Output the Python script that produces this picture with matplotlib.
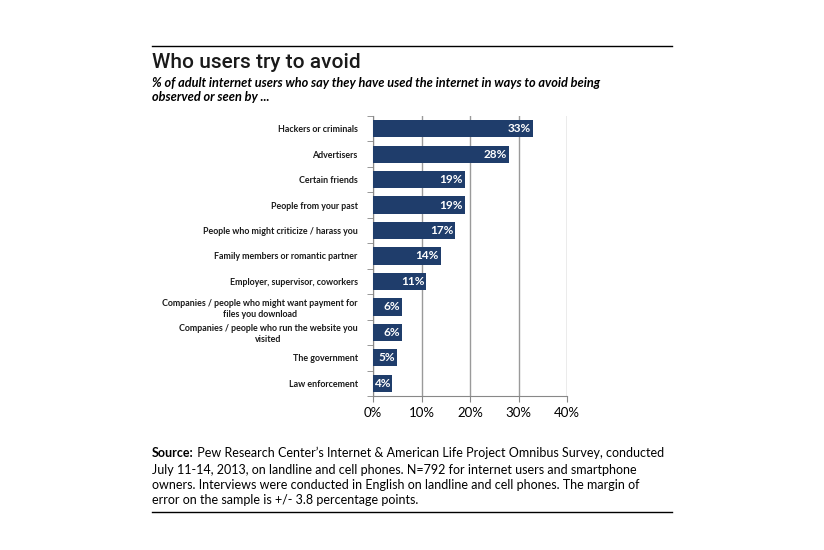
import matplotlib.pyplot as plt
from matplotlib.ticker import FixedLocator

categories = [
    "Hackers or criminals",
    "Advertisers",
    "Certain friends",
    "People from your past",
    "People who might criticize / harass you",
    "Family members or romantic partner",
    "Employer, supervisor, coworkers",
    "Companies / people who might want payment for\nfiles you download",
    "Companies / people who run the website you\nvisited",
    "The government",
    "Law enforcement",
]
values = [33, 28, 19, 19, 17, 14, 11, 6, 6, 5, 4]
xticks = [0, 10, 20, 30, 40]
xticklabels = ["0%", "10%", "20%", "30%", "40%"]

bar_color = "#1f3d6b"
font = ["Lato", "DejaVu Sans"]
plt.rcParams["font.family"] = font

fig = plt.figure(figsize=(8.24, 5.5), dpi=100)
ax = fig.add_axes([373 / 824, 1 - 396 / 550, 194 / 824, 280 / 550])

ypos = list(range(len(categories)))
ax.barh(ypos, values, height=0.68, color=bar_color, zorder=3)
for y, v in zip(ypos, values):
    ax.text(v - 0.4, y, f"{v}%", ha="right", va="center", color="white",
            fontsize=8.5, fontweight="bold", zorder=4)

ax.set_xlim(0, 40)
ax.set_ylim(len(categories) - 0.5, -0.5)
ax.set_xticks(xticks)
ax.set_xticklabels(xticklabels, fontsize=9.5)
ax.xaxis.grid(True, color="#9a9a9a", linewidth=1, zorder=0)
ax.set_yticks(ypos)
ax.set_yticklabels(categories, fontsize=6.4, fontweight="bold", linespacing=1.3,
                   color="#1a1a1a")
ax.tick_params(axis="y", length=0, pad=11)
ax.yaxis.set_minor_locator(FixedLocator([i - 0.5 for i in range(len(categories) + 1)]))
ax.tick_params(axis="y", which="minor", length=4, color="#888888")
ax.tick_params(axis="x", length=4, color="#888888", pad=4)
for lab in ax.get_yticklabels():
    lab.set_horizontalalignment("right")
    lab.set_multialignment("center")
for s in ["top", "right"]:
    ax.spines[s].set_visible(False)
for s in ["left", "bottom"]:
    ax.spines[s].set_color("#888888")

fig.add_artist(plt.Line2D([152 / 824, 672 / 824], [1 - 46 / 550] * 2, color="black", linewidth=1))
fig.add_artist(plt.Line2D([152 / 824, 672 / 824], [1 - 512 / 550] * 2, color="black", linewidth=1))

fig.text(152 / 824, 1 - 62 / 550, "Who users try to avoid", fontsize=15, color="#1a1a1a",
         va="center", fontweight="medium", family=["Roboto", "DejaVu Sans"])
fig.text(152 / 824, 1 - 90 / 550,
         "% of adult internet users who say they have used the internet in ways to avoid being\nobserved or seen by ...",
         fontsize=9.2, style="italic", fontweight="bold", va="center", linespacing=1.25)

src = fig.text(152 / 824, 1 - 453 / 550, "Source:", fontsize=9.0, fontweight="bold",
               va="center")
ax.annotate(" Pew Research Center’s Internet & American Life Project Omnibus Survey, conducted",
            xy=(1, 0.5), xycoords=src, va="center", ha="left", fontsize=9.0,
            annotation_clip=False)
fig.text(152 / 824, 1 - 485 / 550,
         "July 11-14, 2013, on landline and cell phones. N=792 for internet users and smartphone\n"
         "owners. Interviews were conducted in English on landline and cell phones. The margin of\n"
         "error on the sample is +/- 3.8 percentage points.",
         fontsize=9.0, va="center", linespacing=1.3)

fig.savefig("out.png", dpi=100)
